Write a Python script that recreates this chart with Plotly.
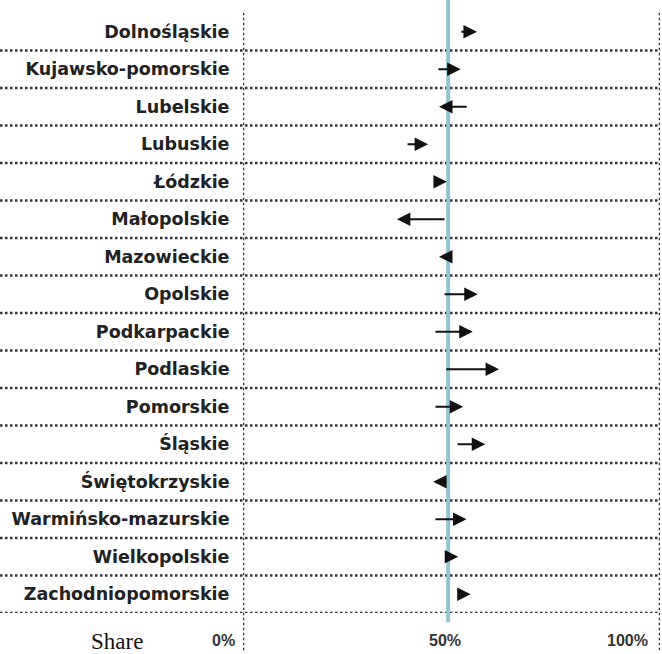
import plotly.graph_objects as go

regions = ['Dolnośląskie', 'Kujawsko-pomorskie', 'Lubelskie', 'Lubuskie', 'Łódzkie',
           'Małopolskie', 'Mazowieckie', 'Opolskie', 'Podkarpackie', 'Podlaskie',
           'Pomorskie', 'Śląskie', 'Świętokrzyskie', 'Warmińsko-mazurskie',
           'Wielkopolskie', 'Zachodniopomorskie']
share_from = [52.0, 46.5, 54.0, 39.1, 46.0, 48.7, 50.1, 48.0, 45.8, 48.4,
              45.8, 51.1, 48.4, 45.8, 49.6, 51.5]
share_to = [56.1, 52.2, 47.0, 44.4, 48.9, 36.9, 47.0, 56.3, 55.1, 61.4,
            52.8, 58.1, 45.6, 53.6, 51.6, 54.6]
reference_share = 49.2
tick_values = [0, 50, 100]
tick_labels = ['0%', '50%', '100%']

dot = dict(color='#333333', width=2.5, dash='2.5px,2.5px')

fig = go.Figure()
# invisible trace so the category axis is set up
fig.add_trace(go.Scatter(x=share_to, y=regions, mode='markers',
                         marker=dict(opacity=0), hoverinfo='skip', showlegend=False))

for r, a, b in zip(regions, share_from, share_to):
    fig.add_annotation(x=b, y=r, ax=a, ay=r, xref='x', yref='y', axref='x', ayref='y',
                       text='', showarrow=True, arrowhead=2, arrowsize=1.35,
                       arrowwidth=2, arrowcolor='#111111', standoff=0, startstandoff=0)

shapes = []
for i in range(len(regions)):
    shapes.append(dict(type='line', xref='paper', yref='y', x0=0, x1=0.997,
                       y0=i + 0.5, y1=i + 0.5, line=dot, layer='below'))
for v in (0, 100):
    shapes.append(dict(type='line', xref='x', yref='paper', x0=v, x1=v,
                       y0=-0.062, y1=1.005, line=dot))
shapes.append(dict(type='line', xref='x', yref='paper', x0=reference_share, x1=reference_share,
                   y0=-0.015, y1=1.025, line=dict(color='#8ec5d6', width=4)))

shifts = {0: ('right', -6), 50: ('center', -7), 100: ('right', -10)}
for v, t in zip(tick_values, tick_labels):
    anc, sh = shifts[v]
    fig.add_annotation(x=v, y=-0.045, xref='x', yref='paper', text=t, showarrow=False,
                       xanchor=anc, yanchor='middle', xshift=sh,
                       font=dict(family='Liberation Sans', size=16, color='#333333', weight='bold'))

fig.add_annotation(x=0.177, y=-0.047, xref='paper', yref='paper', text='Share', showarrow=False,
                   xanchor='center', yanchor='middle',
                   font=dict(family='Liberation Serif', size=23, color='#111111'))

fig.update_layout(
    width=662, height=654,
    margin=dict(l=0, r=0, t=13, b=41),
    plot_bgcolor='white', paper_bgcolor='white',
    shapes=shapes,
    xaxis=dict(domain=[243 / 662, 660 / 662], range=[0, 100], showgrid=False,
               zeroline=False, showticklabels=False, showline=False, fixedrange=True),
    yaxis=dict(type='category', categoryarray=regions, range=[15.5, -0.5],
               showgrid=False, zeroline=False, showline=False, fixedrange=True,
               ticks='outside', ticklen=9, tickcolor='rgba(0,0,0,0)',
               tickfont=dict(family='DejaVu Sans', size=17.5, color='#222222', weight='bold')),
)

fig.write_html('out.html', config={'displayModeBar': False},
               post_script="document.body.style.margin='0px';")
